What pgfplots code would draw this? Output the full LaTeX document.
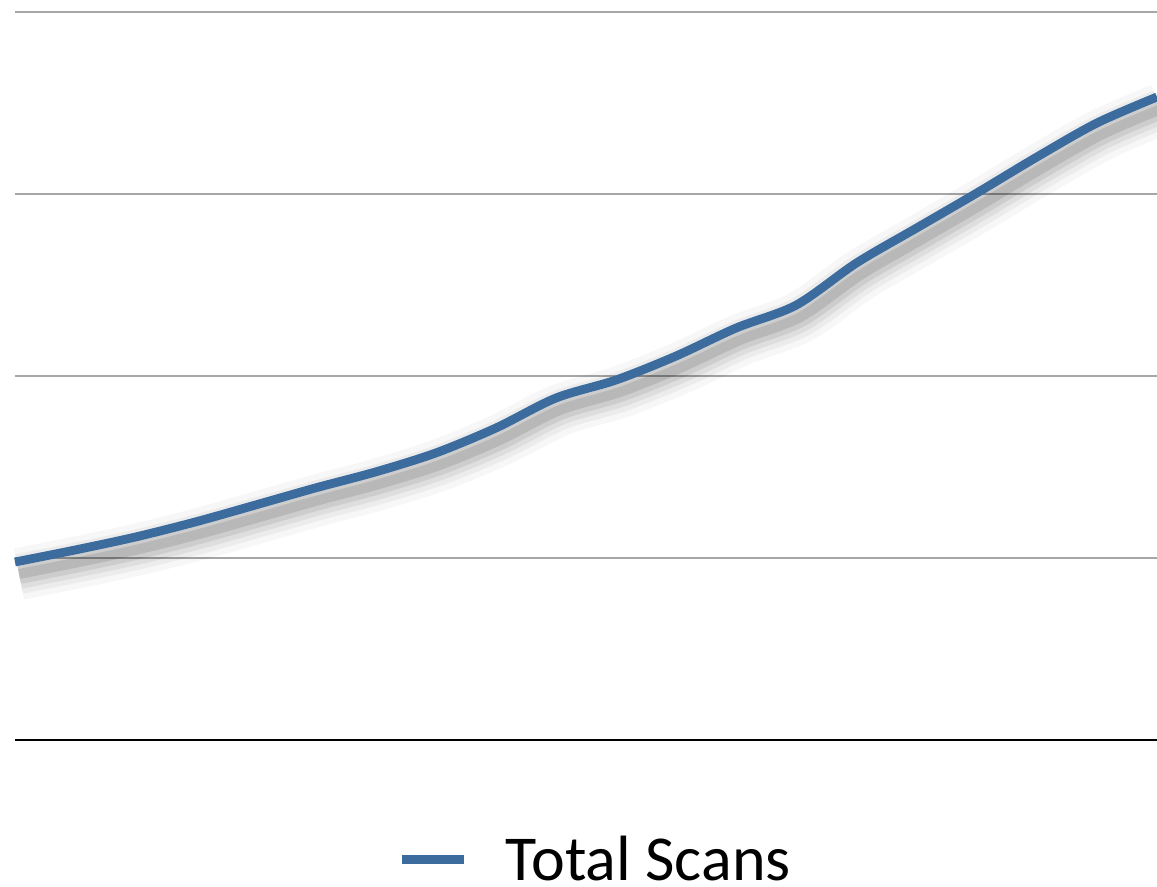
\documentclass[border=0pt]{standalone}
\usepackage{pgfplots}
\pgfplotsset{compat=1.18}
\usepackage{fontspec}
\setmainfont{Carlito}
\definecolor{scanblue}{HTML}{3C6B9E}
\definecolor{gridgray}{HTML}{A6A6A6}
\begin{document}
\begin{tikzpicture}
\useasboundingbox (0,0) rectangle (578.5pt,443.5pt);
\begin{axis}[
  at={(7.5pt,73.5pt)}, anchor=south west,
  scale only axis, width=571pt, height=364pt,
  xmin=0, xmax=19, ymin=0, ymax=4,
  axis lines=left,
  y axis line style={draw=none},
  x axis line style={-, black, line width=1.3pt},
  xtick=\empty, ytick={1,2,3,4}, yticklabels={},
  ymajorgrids, major tick length=0pt,
  grid style={gridgray, line width=1.1pt},
  clip=false,
  legend style={draw=none, fill=none, at={(0.509,-0.164)}, anchor=center,
    font=\fontsize{32}{38}\selectfont, inner sep=0pt},
  legend image code/.code={\draw[#1, line width=4.2pt] (0pt,0pt) -- (31pt,0pt);},
  legend cell align=left,
]
\pgfplotstableread{
x y
0 0.978
1 1.044
2 1.115
3 1.198
4 1.291
5 1.385
6 1.473
7 1.577
8 1.714
9 1.879
10 1.978
11 2.110
12 2.264
13 2.390
14 2.621
15 2.813
16 3.005
17 3.203
18 3.390
19 3.533
}\datatable
\addplot[black, opacity=0.03, line width=26pt, smooth, xshift=2pt, yshift=-6pt, forget plot] table {\datatable};
\addplot[black, opacity=0.045, line width=20pt, smooth, xshift=2pt, yshift=-6pt, forget plot] table {\datatable};
\addplot[black, opacity=0.06, line width=15pt, smooth, xshift=2pt, yshift=-6pt, forget plot] table {\datatable};
\addplot[black, opacity=0.08, line width=10pt, smooth, xshift=2pt, yshift=-6pt, forget plot] table {\datatable};
\addplot[black, opacity=0.10, line width=5pt, smooth, xshift=2pt, yshift=-6pt, forget plot] table {\datatable};
\addplot[scanblue, line width=4.4pt, smooth] table {\datatable};
\addlegendentry{\hspace{17pt}Total Scans}
\end{axis}
\end{tikzpicture}
\end{document}
